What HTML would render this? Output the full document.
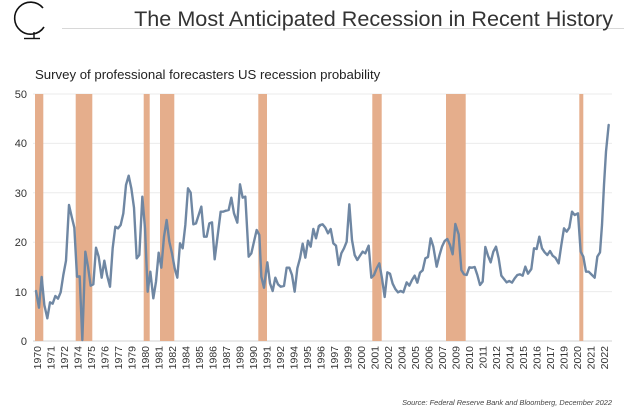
<!DOCTYPE html>
<html><head><meta charset="utf-8"><style>
html,body{margin:0;padding:0;background:#fff;}
svg{display:block;font-family:"Liberation Sans",Arial,sans-serif;}
</style></head><body>
<svg width="624" height="410" viewBox="0 0 624 410" xmlns="http://www.w3.org/2000/svg">
<!-- logo -->
<path d="M43 8 A16 16 0 1 0 44 27" fill="none" stroke="#111" stroke-width="1.6"/>
<line x1="34" y1="32" x2="34" y2="38" stroke="#111" stroke-width="1.4"/>
<line x1="24" y1="38.5" x2="40" y2="38.5" stroke="#111" stroke-width="1.4"/>
<line x1="62" y1="28.5" x2="624" y2="28.5" stroke="#d8d8d8" stroke-width="1"/>
<text x="613" y="26" text-anchor="end" font-size="21.6" fill="#333">The Most Anticipated Recession in Recent History</text>
<text x="35" y="79" font-size="13.2" fill="#222">Survey of professional forecasters US recession probability</text>
<!-- grid -->
<g stroke="#ebebeb" stroke-width="1">
<line x1="33" y1="94" x2="612" y2="94"/>
<line x1="33" y1="143.4" x2="612" y2="143.4"/>
<line x1="33" y1="192.8" x2="612" y2="192.8"/>
<line x1="33" y1="242.2" x2="612" y2="242.2"/>
<line x1="33" y1="291.6" x2="612" y2="291.6"/>
</g>
<line x1="33" y1="341" x2="612" y2="341" stroke="#dcdcdc" stroke-width="1.2"/>
<g font-size="11" fill="#333" text-anchor="end">
<text x="27" y="98">50</text><text x="27" y="147">40</text><text x="27" y="197">30</text>
<text x="27" y="246">20</text><text x="27" y="296">10</text><text x="27" y="345">0</text>
</g>
<!-- recessions -->
<g fill="#e5ae8c">
<rect x="35" y="94" width="8.3" height="247"/>
<rect x="75.7" y="94" width="16.6" height="247"/>
<rect x="143.7" y="94" width="6" height="247"/>
<rect x="160" y="94" width="14.3" height="247"/>
<rect x="258.3" y="94" width="8.7" height="247"/>
<rect x="372.3" y="94" width="9.4" height="247"/>
<rect x="446" y="94" width="19.7" height="247"/>
<rect x="579.3" y="94" width="4" height="247"/>
</g>
<!-- series -->
<g fill="none" stroke="#6f87a3" stroke-width="2.4" stroke-linejoin="round" stroke-linecap="round">
<polyline vector-effect="non-scaling-stroke" transform="translate(20,85) scale(0.33333)" points="48,618 57,668 65,576 73,660 82,700 90,652 98,656 106,633 114,641 122,622 130,570 138,527 147,360 155,395 163,428 171,575 179,574 187,765 196,500 204,545 212,602 220,598 228,488 236,515 245,578 253,527 261,570 270,605 278,490 286,425 294,430 302,420 310,385 318,300 326,272 334,310 342,368 350,520 358,510 367,335 375,430 383,620 391,560 400,640 408,590 416,503 424,548 432,455 440,405 448,470 456,505 464,550 472,578 480,475 488,490 496,420 504,310 512,323 520,418 528,415 536,390 544,365 552,455 560,455 568,415 576,412 584,523 592,460 602,380 610,380 618,377 626,375 634,338 642,385 652,413 660,298 668,338 676,335 686,515 694,505 702,470 710,435 718,450 724,575 732,608 742,532 750,595 758,618 766,578 774,598 782,605 792,603 800,548 808,548 816,570 824,620 832,550 840,520 848,476 856,518 864,467 872,485 880,432 888,460 896,426 900,422"/>
<polyline vector-effect="non-scaling-stroke" transform="translate(310,85) scale(0.33333)" points="26,424 30,420 38,418 46,428 54,445 62,432 70,475 78,482 86,540 94,505 102,490 110,470 118,358 126,465 134,510 142,525 150,512 158,500 166,505 176,482 184,578 192,570 200,550 208,535 216,580 224,636 232,562 240,566 248,596 256,612 264,622 272,618 280,622 290,592 298,602 306,585 314,572 322,593 330,563 338,556 346,520 354,516 362,460 370,485 380,545 388,512 396,485 404,468 412,462 420,480 428,508 436,417 446,448 454,555 462,568 470,570 478,547 486,548 494,546 502,570 510,600 518,590 526,486 534,512 542,532 550,500 558,485 566,520 574,572 582,582 590,592 598,588 606,593 614,580 622,570 630,568 638,572 646,545 654,566 664,552 672,490 680,492 688,455 696,490 704,502 712,510 720,498 728,512 736,518 746,535 754,480 762,430 770,440 778,428 786,380 794,390 804,385 812,500 820,515 828,560 836,560 846,570 854,578 862,515 870,502 876,420 882,300 888,200 896,120"/>
</g>
<!-- x labels -->
<g font-size="10.5" fill="#333" text-anchor="end" id="xl"></g>
<script>
var yrs=[1970,1971,1972,1974,1975,1976,1977,1979,1980,1981,1982,1984,1985,1986,1987,1989,1990,1991,1992,1994,1995,1996,1997,1999,2000,2001,2002,2004,2005,2006,2007,2009,2010,2011,2012,2014,2015,2016,2017,2019,2020,2021,2022];
var g=document.getElementById('xl'),ns='http://www.w3.org/2000/svg';
yrs.forEach(function(y,i){var x=37+i*13.5;var t=document.createElementNS(ns,'text');t.setAttribute('transform','translate('+(x+4)+',346) rotate(-90)');t.textContent=y;g.appendChild(t);});
</script>
<text x="612" y="405" text-anchor="end" font-size="7.4" font-style="italic" fill="#444">Source: Federal Reserve Bank and Bloomberg, December 2022</text>
</svg>
</body></html>
